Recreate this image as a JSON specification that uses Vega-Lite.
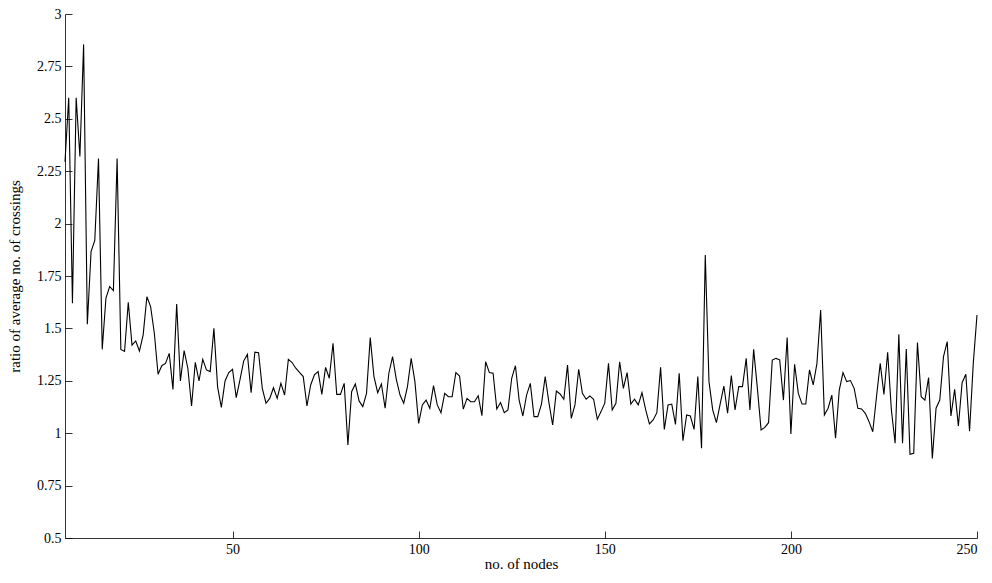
{
  "$schema": "https://vega.github.io/schema/vega-lite/v6.json",
  "width": 912,
  "height": 524,
  "autosize": {"type": "none"},
  "padding": {"left": 65, "top": 14, "right": 15, "bottom": 45},
  "background": "white",
  "config": {
    "view": {"stroke": null},
    "axis": {
      "labelFont": "Liberation Serif",
      "titleFont": "Liberation Serif",
      "labelFontSize": 14,
      "titleFontSize": 15,
      "titleFontWeight": "normal",
      "labelColor": "black",
      "titleColor": "black",
      "domainColor": "black",
      "tickColor": "black",
      "domainWidth": 0.8,
      "tickWidth": 0.8,
      "grid": false,
      "tickSize": -7,
      "labelPadding": 11
    }
  },
  "data": {
    "values": [
      {"nodes": 5, "ratio": 2.295}, {"nodes": 6, "ratio": 2.6}, {"nodes": 7, "ratio": 1.62}, {"nodes": 8, "ratio": 2.6},
      {"nodes": 9, "ratio": 2.32}, {"nodes": 10, "ratio": 2.855}, {"nodes": 11, "ratio": 1.52}, {"nodes": 12, "ratio": 1.866},
      {"nodes": 13, "ratio": 1.92}, {"nodes": 14, "ratio": 2.31}, {"nodes": 15, "ratio": 1.4}, {"nodes": 16, "ratio": 1.645},
      {"nodes": 17, "ratio": 1.7}, {"nodes": 18, "ratio": 1.68}, {"nodes": 19, "ratio": 2.31}, {"nodes": 20, "ratio": 1.4},
      {"nodes": 21, "ratio": 1.39}, {"nodes": 22, "ratio": 1.625}, {"nodes": 23, "ratio": 1.42}, {"nodes": 24, "ratio": 1.44},
      {"nodes": 25, "ratio": 1.392}, {"nodes": 26, "ratio": 1.469}, {"nodes": 27, "ratio": 1.651}, {"nodes": 28, "ratio": 1.604},
      {"nodes": 29, "ratio": 1.477}, {"nodes": 30, "ratio": 1.281}, {"nodes": 31, "ratio": 1.322}, {"nodes": 32, "ratio": 1.333},
      {"nodes": 33, "ratio": 1.381}, {"nodes": 34, "ratio": 1.209}, {"nodes": 35, "ratio": 1.616}, {"nodes": 36, "ratio": 1.249},
      {"nodes": 37, "ratio": 1.394}, {"nodes": 38, "ratio": 1.31}, {"nodes": 39, "ratio": 1.13}, {"nodes": 40, "ratio": 1.338},
      {"nodes": 41, "ratio": 1.249}, {"nodes": 42, "ratio": 1.352}, {"nodes": 43, "ratio": 1.302}, {"nodes": 44, "ratio": 1.294},
      {"nodes": 45, "ratio": 1.5}, {"nodes": 46, "ratio": 1.22}, {"nodes": 47, "ratio": 1.123}, {"nodes": 48, "ratio": 1.249},
      {"nodes": 49, "ratio": 1.289}, {"nodes": 50, "ratio": 1.305}, {"nodes": 51, "ratio": 1.17}, {"nodes": 52, "ratio": 1.254},
      {"nodes": 53, "ratio": 1.344}, {"nodes": 54, "ratio": 1.376}, {"nodes": 55, "ratio": 1.193}, {"nodes": 56, "ratio": 1.387},
      {"nodes": 57, "ratio": 1.384}, {"nodes": 58, "ratio": 1.214}, {"nodes": 59, "ratio": 1.143}, {"nodes": 60, "ratio": 1.166},
      {"nodes": 61, "ratio": 1.217}, {"nodes": 62, "ratio": 1.166}, {"nodes": 63, "ratio": 1.238}, {"nodes": 64, "ratio": 1.182},
      {"nodes": 65, "ratio": 1.352}, {"nodes": 66, "ratio": 1.337}, {"nodes": 67, "ratio": 1.31}, {"nodes": 68, "ratio": 1.29},
      {"nodes": 69, "ratio": 1.27}, {"nodes": 70, "ratio": 1.13}, {"nodes": 71, "ratio": 1.23}, {"nodes": 72, "ratio": 1.278},
      {"nodes": 73, "ratio": 1.294}, {"nodes": 74, "ratio": 1.185}, {"nodes": 75, "ratio": 1.314}, {"nodes": 76, "ratio": 1.262},
      {"nodes": 77, "ratio": 1.429}, {"nodes": 78, "ratio": 1.185}, {"nodes": 79, "ratio": 1.185}, {"nodes": 80, "ratio": 1.238},
      {"nodes": 81, "ratio": 0.944}, {"nodes": 82, "ratio": 1.198}, {"nodes": 83, "ratio": 1.235}, {"nodes": 84, "ratio": 1.154},
      {"nodes": 85, "ratio": 1.127}, {"nodes": 86, "ratio": 1.19}, {"nodes": 87, "ratio": 1.456}, {"nodes": 88, "ratio": 1.27},
      {"nodes": 89, "ratio": 1.193}, {"nodes": 90, "ratio": 1.235}, {"nodes": 91, "ratio": 1.119}, {"nodes": 92, "ratio": 1.286},
      {"nodes": 93, "ratio": 1.365}, {"nodes": 94, "ratio": 1.257}, {"nodes": 95, "ratio": 1.182}, {"nodes": 96, "ratio": 1.143},
      {"nodes": 97, "ratio": 1.222}, {"nodes": 98, "ratio": 1.357}, {"nodes": 99, "ratio": 1.246}, {"nodes": 100, "ratio": 1.047},
      {"nodes": 101, "ratio": 1.135}, {"nodes": 102, "ratio": 1.158}, {"nodes": 103, "ratio": 1.119}, {"nodes": 104, "ratio": 1.227},
      {"nodes": 105, "ratio": 1.135}, {"nodes": 106, "ratio": 1.098}, {"nodes": 107, "ratio": 1.19}, {"nodes": 108, "ratio": 1.174},
      {"nodes": 109, "ratio": 1.174}, {"nodes": 110, "ratio": 1.289}, {"nodes": 111, "ratio": 1.273}, {"nodes": 112, "ratio": 1.115},
      {"nodes": 113, "ratio": 1.166}, {"nodes": 114, "ratio": 1.15}, {"nodes": 115, "ratio": 1.15}, {"nodes": 116, "ratio": 1.179},
      {"nodes": 117, "ratio": 1.084}, {"nodes": 118, "ratio": 1.341}, {"nodes": 119, "ratio": 1.289}, {"nodes": 120, "ratio": 1.286},
      {"nodes": 121, "ratio": 1.115}, {"nodes": 122, "ratio": 1.146}, {"nodes": 123, "ratio": 1.098}, {"nodes": 124, "ratio": 1.111},
      {"nodes": 125, "ratio": 1.262}, {"nodes": 126, "ratio": 1.322}, {"nodes": 127, "ratio": 1.158}, {"nodes": 128, "ratio": 1.082},
      {"nodes": 129, "ratio": 1.182}, {"nodes": 130, "ratio": 1.238}, {"nodes": 131, "ratio": 1.079}, {"nodes": 132, "ratio": 1.079},
      {"nodes": 133, "ratio": 1.139}, {"nodes": 134, "ratio": 1.27}, {"nodes": 135, "ratio": 1.146}, {"nodes": 136, "ratio": 1.039},
      {"nodes": 137, "ratio": 1.201}, {"nodes": 138, "ratio": 1.187}, {"nodes": 139, "ratio": 1.162}, {"nodes": 140, "ratio": 1.325},
      {"nodes": 141, "ratio": 1.071}, {"nodes": 142, "ratio": 1.135}, {"nodes": 143, "ratio": 1.305}, {"nodes": 144, "ratio": 1.19},
      {"nodes": 145, "ratio": 1.162}, {"nodes": 146, "ratio": 1.178}, {"nodes": 147, "ratio": 1.162}, {"nodes": 148, "ratio": 1.066},
      {"nodes": 149, "ratio": 1.103}, {"nodes": 150, "ratio": 1.143}, {"nodes": 151, "ratio": 1.333}, {"nodes": 152, "ratio": 1.111},
      {"nodes": 153, "ratio": 1.143}, {"nodes": 154, "ratio": 1.341}, {"nodes": 155, "ratio": 1.214}, {"nodes": 156, "ratio": 1.289},
      {"nodes": 157, "ratio": 1.139}, {"nodes": 158, "ratio": 1.162}, {"nodes": 159, "ratio": 1.135}, {"nodes": 160, "ratio": 1.193},
      {"nodes": 161, "ratio": 1.111}, {"nodes": 162, "ratio": 1.044}, {"nodes": 163, "ratio": 1.063}, {"nodes": 164, "ratio": 1.098},
      {"nodes": 165, "ratio": 1.314}, {"nodes": 166, "ratio": 1.018}, {"nodes": 167, "ratio": 1.135}, {"nodes": 168, "ratio": 1.139},
      {"nodes": 169, "ratio": 1.042}, {"nodes": 170, "ratio": 1.286}, {"nodes": 171, "ratio": 0.964}, {"nodes": 172, "ratio": 1.087},
      {"nodes": 173, "ratio": 1.082}, {"nodes": 174, "ratio": 1.018}, {"nodes": 175, "ratio": 1.27}, {"nodes": 176, "ratio": 0.928},
      {"nodes": 177, "ratio": 1.85}, {"nodes": 178, "ratio": 1.246}, {"nodes": 179, "ratio": 1.111}, {"nodes": 180, "ratio": 1.05},
      {"nodes": 181, "ratio": 1.139}, {"nodes": 182, "ratio": 1.225}, {"nodes": 183, "ratio": 1.095}, {"nodes": 184, "ratio": 1.275},
      {"nodes": 185, "ratio": 1.111}, {"nodes": 186, "ratio": 1.222}, {"nodes": 187, "ratio": 1.222}, {"nodes": 188, "ratio": 1.357},
      {"nodes": 189, "ratio": 1.111}, {"nodes": 190, "ratio": 1.4}, {"nodes": 191, "ratio": 1.214}, {"nodes": 192, "ratio": 1.015},
      {"nodes": 193, "ratio": 1.028}, {"nodes": 194, "ratio": 1.05}, {"nodes": 195, "ratio": 1.349}, {"nodes": 196, "ratio": 1.357},
      {"nodes": 197, "ratio": 1.35}, {"nodes": 198, "ratio": 1.158}, {"nodes": 199, "ratio": 1.457}, {"nodes": 200, "ratio": 0.996},
      {"nodes": 201, "ratio": 1.329}, {"nodes": 202, "ratio": 1.19}, {"nodes": 203, "ratio": 1.139}, {"nodes": 204, "ratio": 1.139},
      {"nodes": 205, "ratio": 1.302}, {"nodes": 206, "ratio": 1.23}, {"nodes": 207, "ratio": 1.333}, {"nodes": 208, "ratio": 1.588},
      {"nodes": 209, "ratio": 1.087}, {"nodes": 210, "ratio": 1.119}, {"nodes": 211, "ratio": 1.182}, {"nodes": 212, "ratio": 0.976},
      {"nodes": 213, "ratio": 1.206}, {"nodes": 214, "ratio": 1.289}, {"nodes": 215, "ratio": 1.246}, {"nodes": 216, "ratio": 1.251},
      {"nodes": 217, "ratio": 1.214}, {"nodes": 218, "ratio": 1.119}, {"nodes": 219, "ratio": 1.116}, {"nodes": 220, "ratio": 1.095},
      {"nodes": 221, "ratio": 1.055}, {"nodes": 222, "ratio": 1.007}, {"nodes": 223, "ratio": 1.174}, {"nodes": 224, "ratio": 1.333},
      {"nodes": 225, "ratio": 1.185}, {"nodes": 226, "ratio": 1.386}, {"nodes": 227, "ratio": 1.111}, {"nodes": 228, "ratio": 0.952},
      {"nodes": 229, "ratio": 1.472}, {"nodes": 230, "ratio": 0.952}, {"nodes": 231, "ratio": 1.402}, {"nodes": 232, "ratio": 0.899},
      {"nodes": 233, "ratio": 0.904}, {"nodes": 234, "ratio": 1.432}, {"nodes": 235, "ratio": 1.174}, {"nodes": 236, "ratio": 1.158},
      {"nodes": 237, "ratio": 1.265}, {"nodes": 238, "ratio": 0.88}, {"nodes": 239, "ratio": 1.119}, {"nodes": 240, "ratio": 1.158},
      {"nodes": 241, "ratio": 1.365}, {"nodes": 242, "ratio": 1.437}, {"nodes": 243, "ratio": 1.082}, {"nodes": 244, "ratio": 1.209},
      {"nodes": 245, "ratio": 1.034}, {"nodes": 246, "ratio": 1.241}, {"nodes": 247, "ratio": 1.281}, {"nodes": 248, "ratio": 1.01},
      {"nodes": 249, "ratio": 1.333}, {"nodes": 250, "ratio": 1.564}
    ]
  },
  "mark": {"type": "line", "color": "black", "strokeWidth": 1.1, "interpolate": "linear"},
  "encoding": {
    "x": {
      "field": "nodes",
      "type": "quantitative",
      "scale": {"domain": [5, 250], "nice": false, "zero": false},
      "axis": {"values": [50, 100, 150, 200, 250], "title": "no. of nodes", "titlePadding": 0}
    },
    "y": {
      "field": "ratio",
      "type": "quantitative",
      "scale": {"domain": [0.5, 3], "nice": false, "zero": false},
      "axis": {
        "values": [0.5, 0.75, 1, 1.25, 1.5, 1.75, 2, 2.25, 2.5, 2.75, 3],
        "labelExpr": "format(datum.value, '.2~f')",
        "title": "ratio of average no. of crossings",
        "titlePadding": 14
      }
    }
  }
}
